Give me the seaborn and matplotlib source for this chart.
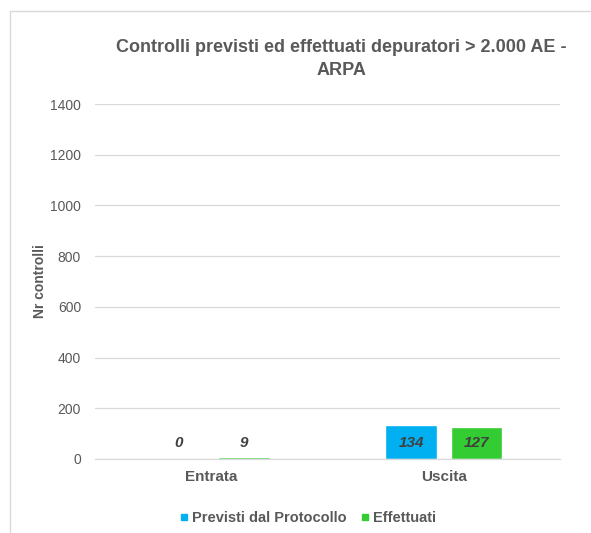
import matplotlib
matplotlib.use("Agg")
import matplotlib.pyplot as plt
from matplotlib.lines import Line2D
import seaborn as sns
import pandas as pd

categories = ["Entrata", "Uscita"]
series = ["Previsti dal Protocollo", "Effettuati"]
previsti = [0, 134]
effettuati = [9, 127]
yticks = [0, 200, 400, 600, 800, 1000, 1200, 1400]

title = "Controlli previsti ed effettuati depuratori > 2.000 AE -\nARPA"
ylabel = "Nr controlli"

colors = ["#00B0F0", "#33CC33"]
text_grey = "#595959"
grid_grey = "#D9D9D9"

sns.set_theme(style="white")
plt.rcParams["font.family"] = ["Liberation Sans", "DejaVu Sans"]

df = pd.DataFrame({
    "Categoria": categories * 2,
    "Serie": [series[0]] * len(categories) + [series[1]] * len(categories),
    "Valore": previsti + effettuati,
})

fig = plt.figure(figsize=(5.91, 5.33), dpi=100)
ax = fig.add_axes([95 / 591, 1 - 459 / 533, 465 / 591, 355 / 533])

sns.barplot(data=df, x="Categoria", y="Valore", hue="Serie",
            order=categories, hue_order=series, palette=colors,
            width=0.56, gap=0.21, saturation=1, ax=ax, legend=False,
            errorbar=None)

ax.set_ylim(0, 1400)
ax.set_xlim(-0.5, 1.5)
ax.set_yticks(yticks)
ax.set_yticklabels([str(v) for v in yticks], fontsize=10, color=text_grey)
ax.yaxis.grid(True, color=grid_grey, linewidth=0.9)
ax.set_axisbelow(True)
for s in ["top", "right", "left"]:
    ax.spines[s].set_visible(False)
ax.spines["bottom"].set_color(grid_grey)
ax.spines["bottom"].set_linewidth(0.9)
ax.tick_params(axis="both", length=0, pad=10)
ax.tick_params(axis="x", pad=8)
for lbl in ax.get_xticklabels():
    lbl.set_fontsize(11)
    lbl.set_fontweight("bold")
    lbl.set_color(text_grey)
ax.set_xlabel("")
ax.set_ylabel(ylabel, fontsize=10, fontweight="bold", color=text_grey, labelpad=2)

# value labels near the base of each bar
for container, vals in zip(ax.containers, [previsti, effettuati]):
    for patch, v in zip(container, vals):
        xc = patch.get_x() + patch.get_width() / 2
        ax.annotate(str(v), (xc, 0), xytext=(0, 11.5), textcoords="offset points",
                    ha="center", va="center", fontsize=11, fontweight="bold",
                    fontstyle="italic", color="#404040")

fig.text(341 / 591, 1 - 59 / 533, title, ha="center", va="center",
         fontsize=13, fontweight="bold", color=text_grey, linespacing=1.45)

handles = [Line2D([], [], marker="s", linestyle="none", markersize=5,
                  markerfacecolor=c, markeredgecolor=c) for c in colors]
fig.legend(handles, series, loc="center", bbox_to_anchor=(307 / 591, 1 - 518 / 533),
           ncol=2, frameon=False, handletextpad=0.1, columnspacing=0.9,
           prop={"size": 10.5, "weight": "bold"}, labelcolor=text_grey,
           handlelength=0.8)

# chart frame
fig.add_artist(Line2D([10 / 591, 10 / 591, 1.0], [0.0, 1 - 11 / 533, 1 - 11 / 533],
                      transform=fig.transFigure, color=grid_grey, linewidth=1))

fig.savefig("out.png", dpi=100, facecolor="white")
